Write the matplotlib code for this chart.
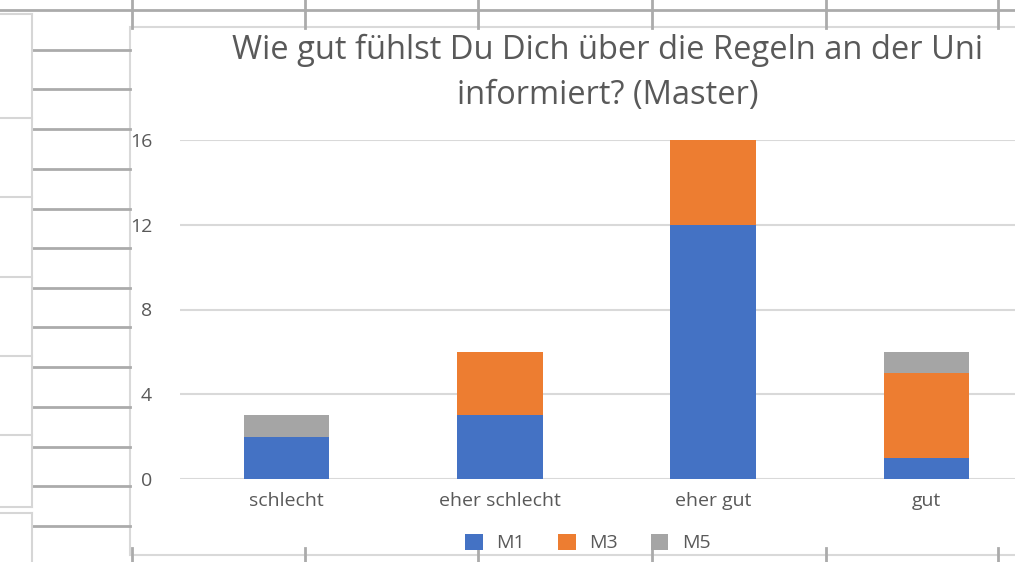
import matplotlib
matplotlib.use("Agg")
import matplotlib.pyplot as plt
from matplotlib.patches import Rectangle, Patch

# Daten
kategorien = ["schlecht", "eher schlecht", "eher gut", "gut"]
m1 = [2, 3, 12, 1]
m3 = [0, 3, 4, 4]
m5 = [1, 0, 0, 1]
y_ticks = [0, 4, 8, 12, 16]

farben = {"M1": "#4472C4", "M3": "#ED7D31", "M5": "#A5A5A5"}
text_farbe = "#595959"
plt.rcParams["font.family"] = ["Open Sans", "DejaVu Sans"]

W, H = 1015, 562
fig = plt.figure(figsize=(W / 100, H / 100), dpi=100)

# Hintergrund: Tabellenraster (Pixelkoordinaten)
bg = fig.add_axes([0, 0, 1, 1], zorder=0)
bg.set_xlim(0, W)
bg.set_ylim(H, 0)
bg.axis("off")
gitter = "#ABABAB"
hell = "#D6D6D6"
bg.plot([0, W], [10, 10], color=gitter, lw=2)
for x in [132, 305, 478, 652, 826, 998]:
    bg.plot([x, x], [0, 28], color=gitter, lw=2)
    bg.plot([x, x], [548, H], color=gitter, lw=2)
for y in [50, 89, 129, 169, 209, 248, 288, 327, 367, 407, 447, 486, 526]:
    bg.plot([32, 130], [y, y], color=gitter, lw=2)
bg.plot([32, 32], [14, 507], color=hell, lw=1.5)
bg.plot([32, 32], [513, H], color=hell, lw=1.5)
for y in [14, 118, 197, 277, 356, 435, 507, 513]:
    bg.plot([0, 32], [y, y], color=hell, lw=1.5)
# Diagrammfläche
bg.add_patch(Rectangle((130, 27), 900, 528, facecolor="white",
                       edgecolor="#D9D9D9", lw=1.5))

# Diagramm
ax = fig.add_axes([180 / W, 1 - 479 / H, 853 / W, (479 - 140) / H], zorder=2)
ax.patch.set_alpha(0)
x = range(len(kategorien))
breite = 0.4
unten = [0] * len(kategorien)
for name, werte in [("M1", m1), ("M3", m3), ("M5", m5)]:
    ax.bar(x, werte, breite, bottom=unten, color=farben[name], zorder=3)
    unten = [u + w for u, w in zip(unten, werte)]

ax.set_xlim(-0.5, len(kategorien) - 0.5)
ax.set_ylim(0, 16)
ax.set_yticks(y_ticks)
ax.set_xticks(list(x))
ax.set_xticklabels(kategorien)
ax.grid(axis="y", color="#D9D9D9", lw=1.5, zorder=0)
for s in ax.spines.values():
    s.set_visible(False)
ax.tick_params(axis="both", length=0, colors=text_farbe, labelsize=14)
ax.tick_params(axis="y", pad=20)
ax.tick_params(axis="x", pad=9)
ax.set_clip_on(False)

fig.text(608 / W, 1 - 73 / H,
         "Wie gut fühlst Du Dich über die Regeln an der Uni\ninformiert? (Master)",
         ha="center", va="center", fontsize=23.5, color=text_farbe, linespacing=1.45)

handles = [Patch(facecolor=farben[n], label=n) for n in ["M1", "M3", "M5"]]
fig.legend(handles=handles, loc="center", bbox_to_anchor=(588 / W, 1 - 543 / H),
           ncol=3, frameon=False, fontsize=14, handlelength=0.9, handleheight=0.9,
           handletextpad=0.7, columnspacing=1.7, labelcolor=text_farbe)

fig.savefig("out.png", dpi=100)
